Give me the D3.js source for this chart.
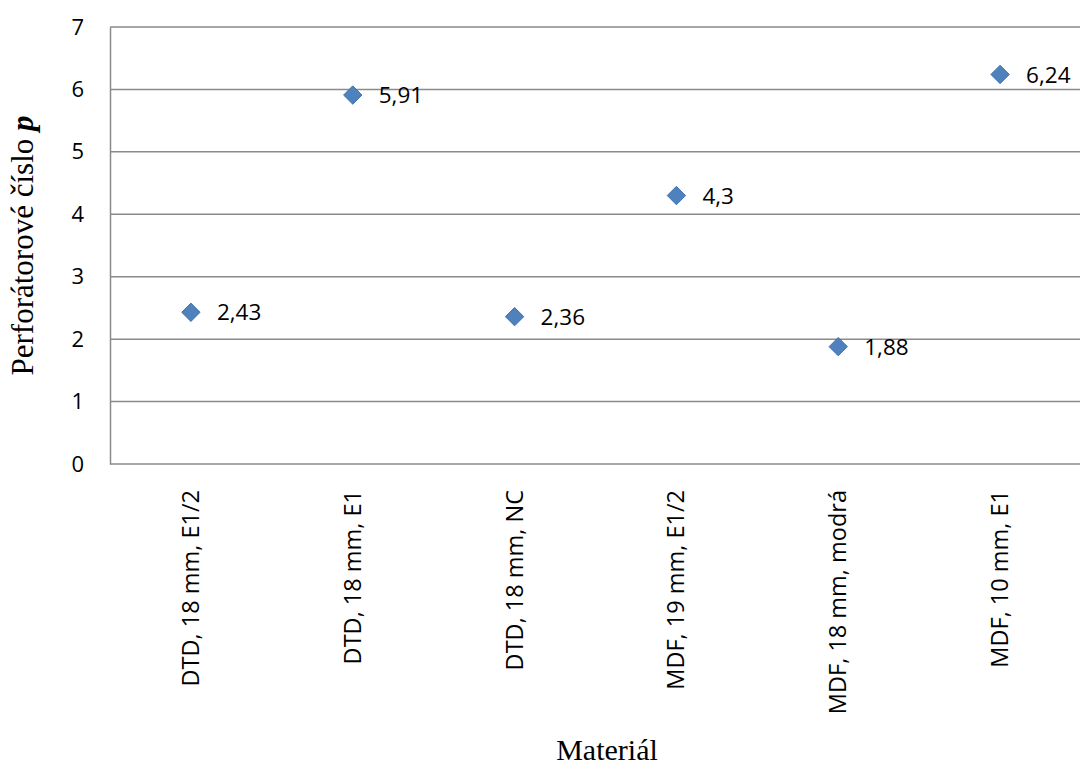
<!DOCTYPE html>
<html>
<head>
<meta charset="utf-8">
<script src="https://cdn.jsdelivr.net/npm/d3@7/dist/d3.min.js"></script>
<style>
  html, body { margin: 0; padding: 0; background: #fff; }
  svg { display: block; }
</style>
</head>
<body>
<svg id="chart" width="1080" height="769"></svg>
<script>
// Materials and their perforator numbers
const categories = [
  "DTD, 18 mm, E1/2",
  "DTD, 18 mm, E1",
  "DTD, 18 mm, NC",
  "MDF, 19 mm, E1/2",
  "MDF, 18 mm, modrá",
  "MDF, 10 mm, E1"
];
const values = [2.43, 5.91, 2.36, 4.3, 1.88, 6.24];
const valueLabels = ["2,43", "5,91", "2,36", "4,3", "1,88", "6,24"];
const yTicks = [0, 1, 2, 3, 4, 5, 6, 7];

const svg = d3.select("#chart");
const margin = { left: 110, top: 27, right: -1, bottom: 305 };
const W = 1080, H = 769;
const plotW = W - margin.left - margin.right;
const plotH = H - margin.top - margin.bottom;

const x = d3.scaleBand().domain(categories).range([margin.left, margin.left + plotW]);
const y = d3.scaleLinear().domain([0, 7]).range([margin.top + plotH, margin.top]);

const gridColor = "#8a8a8a";
const sans = "'Open Sans', 'Noto Sans', sans-serif";
const serif = "'Liberation Serif', 'DejaVu Serif', serif";

// horizontal gridlines
svg.append("g")
  .selectAll("line")
  .data(yTicks.filter(d => d > 0))
  .join("line")
  .attr("x1", margin.left).attr("x2", W)
  .attr("y1", d => y(d)).attr("y2", d => y(d))
  .attr("stroke", gridColor).attr("stroke-width", 1.5);

// y axis
const yAxis = svg.append("g")
  .attr("transform", `translate(${margin.left},0)`)
  .call(d3.axisLeft(y).tickValues(yTicks).tickSize(0).tickPadding(26).tickFormat(d3.format("d")));
yAxis.select(".domain").attr("stroke", gridColor).attr("stroke-width", 1.5);
yAxis.selectAll("text").attr("font-family", sans).attr("font-size", 22).attr("fill", "#000");

// x axis baseline
svg.append("line")
  .attr("x1", margin.left).attr("x2", W)
  .attr("y1", y(0)).attr("y2", y(0))
  .attr("stroke", gridColor).attr("stroke-width", 1.5);

// category labels, rotated
svg.append("g")
  .selectAll("text")
  .data(categories)
  .join("text")
  .attr("transform", d => `translate(${x(d) + x.bandwidth() / 2 + 8},${y(0) + 26}) rotate(-90)`)
  .attr("text-anchor", "end")
  .attr("font-family", sans).attr("font-size", 23.5)
  .attr("fill", "#000")
  .text(d => d);

// markers
const diamond = d3.symbol().type(d3.symbolDiamond2).size(215);
svg.append("g")
  .selectAll("path")
  .data(values)
  .join("path")
  .attr("d", diamond)
  .attr("transform", (d, i) => `translate(${x(categories[i]) + x.bandwidth() / 2},${y(d)})`)
  .attr("fill", "#4f81bd")
  .attr("stroke", "#3f72b0").attr("stroke-width", 1);

// value labels
svg.append("g")
  .selectAll("text")
  .data(values)
  .join("text")
  .attr("x", (d, i) => x(categories[i]) + x.bandwidth() / 2 + 26)
  .attr("y", d => y(d))
  .attr("dy", "0.36em")
  .attr("font-family", sans).attr("font-size", 22.5)
  .attr("fill", "#000")
  .text((d, i) => valueLabels[i]);

// axis titles
svg.append("text")
  .attr("x", 607)
  .attr("y", 760)
  .attr("text-anchor", "middle")
  .attr("font-family", serif).attr("font-size", 30)
  .text("Materiál");

const yt = svg.append("text")
  .attr("transform", `translate(33,${margin.top + plotH / 2}) rotate(-90)`)
  .attr("text-anchor", "middle")
  .attr("font-family", serif).attr("font-size", 31);
yt.append("tspan").text("Perforátorové číslo ");
yt.append("tspan").attr("font-weight", "bold").attr("font-style", "italic").text("p");
</script>
</body>
</html>
